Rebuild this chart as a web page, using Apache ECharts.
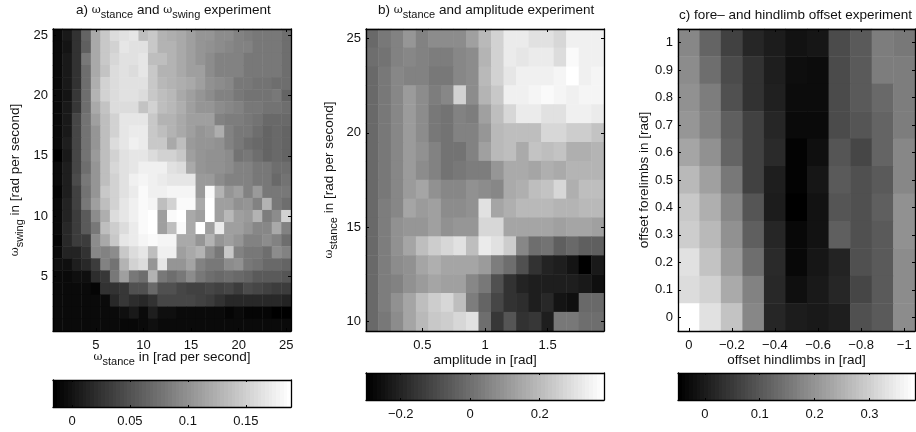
<!DOCTYPE html>
<html><head><meta charset="utf-8">
<style>html,body{margin:0;padding:0;background:#fff}#c{width:916px;height:432px}</style>
<script src="https://cdn.jsdelivr.net/npm/echarts@6/dist/echarts.min.js"></script>
</head><body><div id="c"></div>
<script>
const omegaA=[1,2,3,4,5,6,7,8,9,10,11,12,13,14,15,16,17,18,19,20,21,22,23,24,25];
// rows from omega_swing = 25 (top) down to 1 (bottom)
const heatA=[
[-.008,.004,.024,.064,.12,.145,.161,.165,.169,.137,.145,.128,.124,.12,.112,.104,.104,.096,.096,.088,.084,.08,.08,.08,.072],
[-.008,0,.024,.06,.12,.145,.153,.169,.165,.165,.145,.128,.128,.12,.112,.104,.1,.096,.092,.088,.088,.08,.08,.08,.072],
[-.008,.004,.024,.08,.12,.145,.157,.165,.165,.169,.137,.137,.128,.12,.112,.104,.096,.088,.088,.088,.08,.08,.08,.08,.072],
[-.008,.004,.024,.072,.12,.141,.161,.165,.161,.169,.145,.128,.128,.12,.112,.112,.096,.088,.088,.088,.08,.08,.08,.08,.072],
[-.008,.004,.024,.072,.124,.153,.161,.165,.165,.165,.145,.132,.128,.124,.12,.112,.1,.096,.092,.08,.08,.076,.076,.072,.072],
[-.008,0,.028,.072,.128,.153,.161,.165,.165,.161,.145,.137,.132,.12,.112,.104,.096,.088,.088,.08,.076,.076,.076,.08,.064],
[-.008,.004,.028,.072,.12,.141,.161,.161,.161,.141,.153,.137,.132,.124,.112,.104,.104,.096,.092,.088,.08,.08,.076,.076,.072],
[-.008,.004,.04,.076,.112,.137,.153,.169,.169,.169,.145,.128,.128,.12,.112,.112,.112,.088,.084,.084,.08,.076,.068,.068,.068],
[-.008,.004,.04,.076,.104,.137,.153,.169,.173,.173,.145,.137,.128,.12,.112,.104,.108,.124,.088,.08,.08,.072,.064,.068,.064],
[-.008,.008,.04,.076,.104,.137,.161,.169,.177,.173,.145,.145,.12,.137,.108,.104,.104,.1,.088,.08,.072,.068,.064,.068,.064],
[-.016,.004,.04,.076,.108,.137,.153,.165,.169,.169,.161,.153,.153,.145,.112,.104,.1,.1,.096,.076,.08,.072,.064,.068,.064],
[-.008,.008,.04,.072,.104,.137,.157,.165,.169,.177,.177,.177,.165,.161,.12,.104,.1,.1,.096,.088,.088,.08,.08,.072,.072],
[-.008,.008,.044,.08,.104,.137,.153,.165,.177,.181,.177,.173,.169,.169,.169,.108,.108,.096,.088,.088,.088,.08,.08,.068,.076],
[-.012,.008,.036,.076,.104,.145,.153,.165,.173,.185,.177,.177,.181,.181,.181,.108,.185,.128,.104,.112,.088,.108,.08,.08,.08],
[-.008,.012,.036,.08,.112,.137,.153,.169,.177,.185,.181,.137,.153,.185,.185,.12,.189,.112,.112,.1,.104,.088,.128,.08,.072],
[-.008,.012,.032,.056,.096,.124,.161,.169,.177,.185,.189,.112,.185,.189,.12,.112,.189,.112,.132,.112,.108,.128,.084,.096,.153],
[-.008,.016,.032,.056,.08,.137,.149,.161,.173,.185,.189,.112,.137,.185,.12,.189,.112,.173,.112,.112,.104,.092,.092,.12,.088],
[-.012,.016,.032,.032,.096,.12,.145,.169,.173,.181,.185,.181,.181,.12,.12,.104,.128,.104,.112,.104,.088,.088,.096,.088,.072],
[-.008,.012,.012,.024,.092,.088,.096,.145,.161,.169,.137,.177,.177,.112,.12,.128,.096,.08,.145,.088,.08,.08,.072,.096,.088],
[-.004,-.004,.008,.016,.032,.088,.076,.128,.153,.161,.104,.169,.104,.104,.116,.088,.08,.08,.096,.1,.08,.076,.068,.068,.064],
[-.008,-.008,-.004,-.004,.02,.028,.08,.112,.08,.072,.128,.08,.072,.08,.096,.08,.072,.068,.072,.068,.064,.056,.056,.056,.052],
[-.008,-.008,-.008,-.008,-.012,.024,.024,.028,.048,.048,.068,.048,.048,.04,.036,.036,.04,.036,.04,.032,.044,.04,.036,.032,.032],
[-.008,-.008,-.008,-.008,-.008,-.008,.016,.028,.02,.016,.024,.04,.04,.04,.04,.036,.032,.024,.016,.016,.016,.016,.016,.016,.012],
[-.008,-.008,-.008,-.008,-.008,-.008,-.008,-.004,.004,-.008,.008,-.004,-.004,-.008,-.008,-.008,-.008,-.008,-.012,-.008,-.012,-.012,-.012,-.016,-.016],
[-.008,-.008,-.008,-.008,-.008,-.008,-.008,-.01,-.01,-.008,-.004,-.008,-.008,-.008,-.008,-.008,-.008,-.008,-.008,-.008,-.008,-.008,-.008,-.008,-.008]
];
const amplitudeB=[0.1,0.2,0.3,0.4,0.5,0.6,0.7,0.8,0.9,1,1.1,1.2,1.3,1.4,1.5,1.6,1.7,1.8,1.9];
const omegaB=[10,11,12,13,14,15,16,17,18,19,20,21,22,23,24,25];
// rows from omega_stance = 25 (top) down to 10 (bottom)
const heatB=[
[-.018,.022,.049,.103,.049,.076,.076,.076,.13,.197,.264,.331,.331,.304,.304,.278,.345,.345,.345],
[-.005,.009,.049,.063,.049,.036,.036,.063,.076,.184,.264,.331,.318,.331,.331,.291,.372,.345,.345],
[-.018,.022,.063,.049,.049,.022,.022,.063,.076,.197,.264,.318,.345,.345,.345,.358,.385,.345,.358],
[-.018,.022,.063,.116,.076,.036,.063,.264,.076,.184,.237,.345,.345,.358,.372,.358,.345,.358,.358],
[-.018,.022,.063,.116,.076,.022,.009,.049,.036,.13,.21,.278,.331,.331,.304,.304,.345,.345,.331],
[-.018,.022,.063,.116,.076,.022,.009,.049,.049,.103,.197,.21,.21,.21,.278,.278,.251,.251,.224],
[-.018,.022,.063,.116,.09,.049,.009,.009,.049,.13,.197,.21,.157,.224,.21,.224,.17,.17,.184],
[-.018,.022,.063,.116,.076,.049,.009,.022,.036,.036,.103,.157,.157,.143,.17,.157,.184,.184,.184],
[-.018,.022,.063,.116,.143,.09,.063,.063,.09,.076,.063,.157,.17,.21,.224,.278,.17,.21,.21],
[-.018,.036,.063,.143,.116,.13,.076,.076,.09,.304,.143,.17,.197,.197,.197,.184,.184,.197,.197],
[-.018,.036,.09,.103,.103,.13,.09,.103,.103,.278,.278,.143,.143,.143,.143,.13,.143,.143,.13],
[-.018,.036,.09,.143,.21,.251,.278,.304,.21,.331,.304,.251,.063,-.005,.009,-.045,-.018,-.045,-.045],
[-.018,.036,.076,.09,.143,.17,.143,.143,.143,.116,.036,-.005,-.085,-.166,-.206,-.219,-.246,-.3,-.233],
[-.018,.036,.049,.09,.116,.143,.13,.13,.063,.022,-.085,-.166,-.206,-.219,-.219,-.219,-.219,-.233,-.26],
[-.018,.036,.09,.143,.21,.251,.278,.21,.036,-.031,-.112,-.166,-.179,-.219,-.193,-.246,-.26,-.018,-.018],
[-.018,.022,.076,.143,.197,.237,.251,.278,.304,-.005,-.152,-.072,-.166,-.152,-.219,.022,.022,-.005,-.005]
];
const hindC=[0,-0.1,-0.2,-0.3,-0.4,-0.5,-0.6,-0.7,-0.8,-0.9,-1];
const foreC=[0,0.1,0.2,0.3,0.4,0.5,0.6,0.7,0.8,0.9,1];
// rows from offset forelimbs = 1 (top) down to 0 (bottom)
const heatC=[
[.18,.12,.061,.015,-.002,-.019,-.012,.078,.103,.163,.154],
[.188,.137,.078,.036,.002,-.025,-.029,.078,.103,.163,.163],
[.197,.163,.087,.036,.005,-.029,-.029,.078,.103,.129,.163],
[.205,.171,.112,.061,.015,-.032,-.032,.078,.095,.12,.163],
[.231,.197,.12,.061,.022,-.044,-.024,.095,.07,.12,.18],
[.264,.222,.154,.061,.002,-.044,-.012,.103,.087,.103,.18],
[.29,.247,.18,.095,-.002,-.049,-.019,.095,.087,.112,.197],
[.298,.264,.197,.112,.015,-.035,-.019,.112,.087,.103,.197],
[.332,.281,.214,.137,.022,-.035,-.012,.01,.087,.103,.188],
[.324,.307,.239,.171,.019,-.024,-.007,.015,.07,.103,.188],
[.383,.332,.281,.18,.015,-.002,-.007,.002,.087,.103,.188]
];
const rangeA=[-0.0164,0.189], rangeB=[-0.30,0.385], rangeC=[-0.049,0.383];
const barTicksA=[0,0.05,0.1,0.15], barTicksB=[-0.2,0,0.2], barTicksC=[0,0.1,0.2,0.3];
const xTicksA=[5,10,15,20,25], yTicksA=[5,10,15,20,25];
const xTicksB=[0.5,1,1.5], yTicksB=[10,15,20,25];
const xTicksC=[0,-0.2,-0.4,-0.6,-0.8,-1], yTicksC=foreC;

const FONT='"Liberation Sans",Arial,sans-serif', INK='#111', FS=13.5, TS=13;
const fmt=v=>String(v).replace('-','\u2212');
const subRich={w:{fontFamily:'"DejaVu Serif",serif',fontSize:11,color:INK},
  s:{fontFamily:FONT,fontSize:11,color:INK,padding:[9,0,0,0]},
  t:{fontFamily:FONT,fontSize:FS,color:INK}};
const line={show:true,onZero:false,lineStyle:{color:'#000',width:1.3}};
const grid=[],xAxis=[],yAxis=[],series=[],visualMap=[];

function panel(box,xs,ys,rows,range,xT,yT,xName,yName,xGap,yGap){
  const g=grid.length; grid.push(Object.assign({containLabel:false,outerBoundsMode:'none'},box));
  const hasX=(i,v)=>xT.includes(+v), hasY=(i,v)=>yT.includes(+v);
  const xBase={type:'category',gridIndex:g,data:xs.map(String),z:5,axisLine:line,
    axisTick:{show:true,inside:true,length:3,alignWithLabel:true,interval:hasX,lineStyle:{color:'#000'}},splitLine:{show:false}};
  const yBase={type:'category',gridIndex:g,data:ys.map(String),z:5,axisLine:line,
    axisTick:{show:true,inside:true,length:3,alignWithLabel:true,interval:hasY,lineStyle:{color:'#000'}},splitLine:{show:false}};
  const xi=xAxis.length, yi=yAxis.length;
  xAxis.push(Object.assign({},xBase,{position:'bottom',name:xName,nameLocation:'middle',nameGap:xGap,nameMoveOverlap:false,
    nameTextStyle:{fontFamily:FONT,fontSize:FS,color:INK,rich:subRich},
    axisLabel:{interval:hasX,margin:8,fontFamily:FONT,fontSize:TS,color:INK,formatter:fmt,showMinLabel:true,showMaxLabel:true,hideOverlap:false}}));
  xAxis.push(Object.assign({},xBase,{position:'top',axisLabel:{show:false}}));
  yAxis.push(Object.assign({},yBase,{position:'left',name:yName,nameLocation:'middle',nameGap:yGap,nameMoveOverlap:false,
    nameTextStyle:{fontFamily:FONT,fontSize:FS,color:INK,rich:subRich},
    axisLabel:{interval:hasY,margin:5,fontFamily:FONT,fontSize:TS,color:INK,formatter:fmt,hideOverlap:false}}));
  yAxis.push(Object.assign({},yBase,{position:'right',axisLabel:{show:false}}));
  const data=[];
  rows.forEach((r,ri)=>r.forEach((v,ci)=>data.push([ci,rows.length-1-ri,v])));
  const si=series.length;
  series.push({type:'heatmap',xAxisIndex:xi,yAxisIndex:yi,data,progressive:0,animation:false,emphasis:{disabled:true},itemStyle:{borderWidth:0}});
  visualMap.push({show:false,type:'continuous',seriesIndex:si,dimension:2,min:range[0],max:range[1],inRange:{color:['#000000','#ffffff']}});
}
function colorbar(box,range,ticks){
  const g=grid.length; grid.push(Object.assign({containLabel:false,outerBoundsMode:'none'},box));
  const xi=xAxis.length, yi=yAxis.length;
  const xBase={type:'value',gridIndex:g,min:range[0],max:range[1],z:5,axisLine:line,splitLine:{show:false},
    axisTick:{show:true,inside:true,length:2,customValues:ticks,lineStyle:{color:'#000'}}};
  xAxis.push(Object.assign({},xBase,{position:'bottom',
    axisLabel:{customValues:ticks,margin:8,fontFamily:FONT,fontSize:TS,color:INK,formatter:fmt,showMinLabel:true,showMaxLabel:true}}));
  xAxis.push(Object.assign({},xBase,{position:'top',axisLabel:{show:false}}));
  const yBase={type:'value',gridIndex:g,min:0,max:1,z:5,axisLine:line,axisTick:{show:false},axisLabel:{show:false},splitLine:{show:false}};
  yAxis.push(Object.assign({},yBase,{position:'left'}));
  yAxis.push(Object.assign({},yBase,{position:'right'}));
  const N=64,levels=[];
  for(let i=0;i<N;i++) levels.push([range[0]+(range[1]-range[0])*i/N,range[0]+(range[1]-range[0])*(i+1)/N,i/(N-1)]);
  series.push({type:'custom',xAxisIndex:xi,yAxisIndex:yi,animation:false,silent:true,data:levels,encode:{x:[0,1]},clip:true,
    renderItem(p,api){
      const a=api.coord([api.value(0),1]),b=api.coord([api.value(1),0]);
      const c=Math.round(api.value(2)*255), x0=Math.round(a[0]), x1=Math.round(b[0]);
      return {type:'rect',shape:{x:x0,y:a[1],width:x1-x0,height:b[1]-a[1]},style:{fill:`rgb(${c},${c},${c})`}};
    }});
}
const W='{w|\u03c9}';
panel({left:53,top:29,width:238,height:302},omegaA,omegaA,heatA,rangeA,xTicksA,yTicksA,
  W+'{s|stance}{t| in [rad per second]}',W+'{s|swing}{t| in [rad per second]}',16,28);
panel({left:366,top:29,width:238,height:302},amplitudeB,omegaB,heatB,rangeB,xTicksB,yTicksB,
  'amplitude in [rad]',W+'{s|stance}{t| in [rad per second]}',22,27);
panel({left:678,top:29,width:237,height:302},hindC,foreC,heatC,rangeC,xTicksC,yTicksC,
  'offset hindlimbs in [rad]','offset forelimbs in [rad]',22,27);
colorbar({left:53,top:380,width:238,height:27},rangeA,barTicksA);
colorbar({left:366,top:373,width:238,height:27},rangeB,barTicksB);
colorbar({left:678,top:373,width:237,height:27},rangeC,barTicksC);

const titleOf=(text,left,top)=>({text,left,top,padding:0,textStyle:{fontFamily:FONT,fontSize:FS,fontWeight:'normal',color:INK,rich:subRich}});
const title=[
  titleOf('{t|a) }'+W+'{s|stance}{t| and }'+W+'{s|swing}{t| experiment}',76,0),
  titleOf('{t|b) }'+W+'{s|stance}{t| and amplitude experiment}',378,0),
  titleOf('{t|c) fore\u2013 and hindlimb offset experiment}',679,8)
];
echarts.init(document.getElementById('c'),null,{renderer:'canvas'}).setOption({
  animation:false,backgroundColor:'#fff',title,grid,xAxis,yAxis,series,visualMap,tooltip:{show:false}
});
</script></body></html>
